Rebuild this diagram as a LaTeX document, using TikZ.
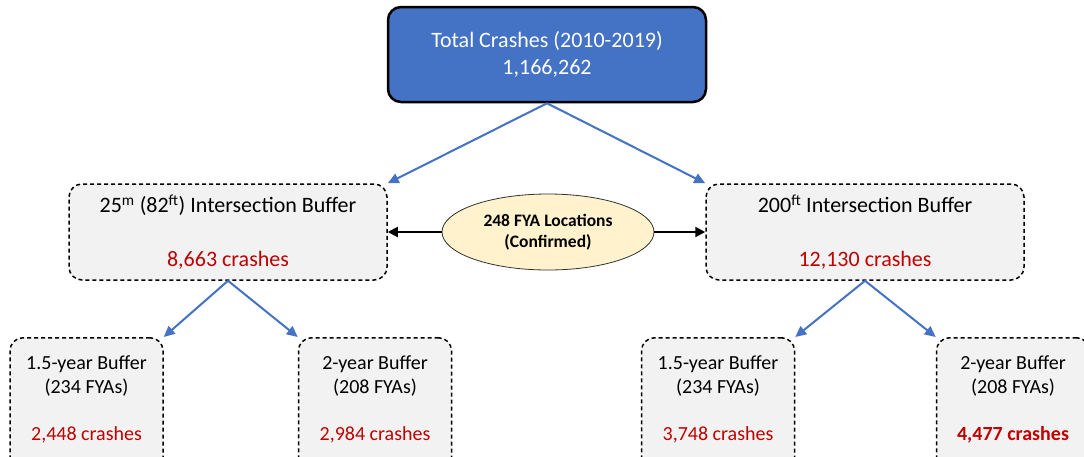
\documentclass[tikz,border=0pt]{standalone}
\usepackage{fontspec}
\setmainfont{Carlito}
\usetikzlibrary{arrows.meta,shapes.geometric,calc}
\definecolor{topblue}{HTML}{4472C4}
\definecolor{boxgray}{HTML}{F2F2F2}
\definecolor{crashred}{HTML}{C00000}
\definecolor{ellfill}{HTML}{FFF2CC}
\begin{document}
\begin{tikzpicture}[x=1pt,y=1pt,
  topbox/.style={draw=black, line width=2.5pt, fill=topblue, rounded corners=13pt,
     minimum width=318pt, minimum height=95pt, text=white, font=\fontsize{22}{27}\selectfont, align=center},
  midbox/.style={draw=black, line width=1.5pt, dash pattern=on 4pt off 3pt, fill=boxgray, rounded corners=13pt,
     minimum width=318pt, minimum height=96pt, font=\fontsize{22}{26}\selectfont, align=center},
  botbox/.style={draw=black, line width=1.5pt, dash pattern=on 4pt off 3pt, fill=boxgray, rounded corners=13pt,
     minimum width=153pt, minimum height=133pt},
  bottxt/.style={font=\fontsize{20}{24}\selectfont, align=center, inner sep=0pt},
  ell/.style={ellipse, draw=black!80, line width=0.8pt, fill=ellfill, minimum width=212pt, minimum height=76pt,
     font=\fontsize{17.5}{21}\selectfont\bfseries, align=center, inner sep=0pt},
  bluearrow/.style={draw=topblue, line width=2pt, -{Triangle[length=11pt,width=10pt]}},
  blackarrow/.style={draw=black, line width=2pt, -{Triangle[length=10pt,width=10pt]}}
]
\useasboundingbox (0,0) rectangle (1084,-456);
\clip (0,0) rectangle (1084,-456);

\node[topbox] (top) at (547,-54.5) {Total Crashes (2010-2019)\\1,166,262};

\node[midbox] (left) at (228,-232) {25\textsuperscript{m} (82\textsuperscript{ft}) Intersection Buffer\\[28pt]\textcolor{crashred}{8,663 crashes}};
\node[midbox] (right) at (865,-232) {200\textsuperscript{ft} Intersection Buffer\\[28pt]\textcolor{crashred}{12,130 crashes}};

\node[ell] (fya) at (548,-232) {248 FYA Locations\\(Confirmed)};

\node[botbox, anchor=north] (b1) at (86.5,-337) {};
\node[botbox, anchor=north] (b2) at (375,-337) {};
\node[botbox, anchor=north] (b3) at (718,-337) {};
\node[botbox, anchor=north] (b4) at (1013,-337) {};

\foreach \b/\t/\n/\c in {b1/{1.5-year Buffer}/234/{2,448}, b2/{2-year Buffer}/208/{2,984}, b3/{1.5-year Buffer}/234/{3,748}}{
  \node[bottxt, anchor=base] (\b t) at ($(\b.north)+(0,-32)$) {\t};
  \node[bottxt, anchor=base] (\b f) at ($(\b.north)+(0,-56)$) {(\n\ FYAs)};
  \node[bottxt, anchor=base, text=crashred] (\b c) at ($(\b.north)+(0,-103)$) {\c\ crashes};
}
\node[bottxt, anchor=base] (b4t) at ($(b4.north)+(0,-32)$) {2-year Buffer};
\node[bottxt, anchor=base] (b4f) at ($(b4.north)+(0,-56)$) {(208 FYAs)};
\node[bottxt, anchor=base, text=crashred, font=\fontsize{20}{24}\selectfont\bfseries] (b4c) at ($(b4.north)+(0,-103)$) {4,477 crashes};

\draw[bluearrow] (top.south) -- (left.north east);
\draw[bluearrow] (top.south) -- (right.north west);
\draw[bluearrow] (left.south) -- (b1.north east);
\draw[bluearrow] (left.south) -- (b2.north west);
\draw[bluearrow] (right.south) -- (b3.north east);
\draw[bluearrow] (right.south) -- (b4.north west);

\draw[blackarrow] (fya.west) -- (left.east |- fya.west);
\draw[blackarrow] (fya.east) -- (right.west |- fya.east);
\end{tikzpicture}
\end{document}
